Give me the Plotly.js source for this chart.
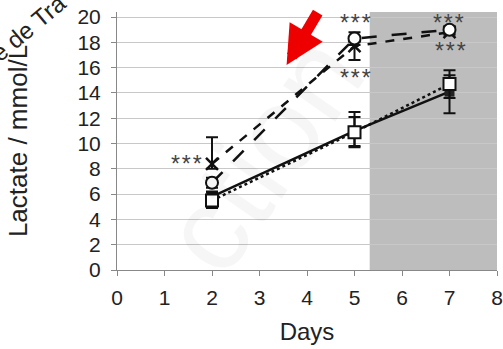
<!DOCTYPE html>
<html><head><meta charset="utf-8">
<script src="https://cdn.plot.ly/plotly-3.0.1.min.js"></script>
<style>html,body{margin:0;padding:0;background:#fff}#c{width:503px;height:349px}</style>
</head><body><div id="c"></div>
<script>
const days = [2, 5, 7];
const circleVals = [6.9, 18.3, 19.0];
const circleErr = [0.4, 0.5, 0.3];
const crossVals = [8.4, 17.7, 18.8];
const crossErrPlus = [2.1, 0.3, 0.2];
const crossErrMinus = [0.4, 1.1, 0.2];
const dotSqVals = [5.5, 10.9, 14.7];
const dotSqErr = [0.6, 1.2, 1.1];
const solidVals = [5.8, 11.0, 14.1];
const solidErrPlus = [0.4, 1.5, 1.3];
const solidErrMinus = [0.4, 1.2, 1.7];
const xTicks = [0,1,2,3,4,5,6,7,8];
const yTicks = [0,2,4,6,8,10,12,14,16,18,20];
const stars = [
  {x: 5.02, y: 19.9}, {x: 5.02, y: 15.6}, {x: 6.98, y: 19.9}, {x: 7.02, y: 17.7}, {x: 1.46, y: 8.8}
];
const shadedRange = [5.32, 8];

const eb = (plus, minus) => ({type:'data', symmetric:false, array:plus, arrayminus:minus, color:'#111', thickness:2, width:6});

const traces = [
  {x: days, y: solidVals, mode:'lines+markers', line:{color:'#111', width:2.5},
   marker:{symbol:'square', size:10, color:'#222'}, error_y: eb(solidErrPlus, solidErrMinus)},
  {x: days, y: dotSqVals, mode:'lines+markers', line:{color:'#111', width:2.5, dash:'dot'},
   marker:{symbol:'square', size:12, color:'#fff', line:{color:'#111', width:2}}, error_y: eb(dotSqErr, dotSqErr)},
  {x: days, y: crossVals, mode:'lines+markers', line:{color:'#111', width:2.5, dash:'dash'},
   marker:{symbol:'x-thin-open', size:12, color:'#111', line:{color:'#111', width:2.5}}, error_y: eb(crossErrPlus, crossErrMinus)},
  {x: days, y: circleVals, mode:'lines+markers', line:{color:'#111', width:2.5, dash:'longdash'},
   marker:{symbol:'circle', size:12, color:'#fff', line:{color:'#111', width:2}}, error_y: eb(circleErr, circleErr)}
];

const annotations = stars.map(s => ({x:s.x, y:s.y, xref:'x', yref:'y', text:'*\u200A*\u200A*', showarrow:false,
  yshift:-5, font:{family:'Liberation Sans, Arial', size:23, color:'#444'}}));
annotations.push({x:3.57, y:16.2, xref:'x', yref:'y', text:'', showarrow:true, ax:32, ay:-54,
  arrowcolor:'#ee0000', arrowwidth:11, arrowhead:2, arrowsize:0.7});
annotations.push({x:-0.232, y:0.94, xref:'paper', yref:'paper', xanchor:'center', yanchor:'middle', text:'e de Tra', showarrow:false, textangle:-40,
  font:{family:'Liberation Sans, Arial', size:24, color:'#222'}});
annotations.push({x:0.38, y:0.45, xref:'paper', yref:'paper', text:'ction', showarrow:false, textangle:-55,
  font:{family:'Liberation Sans, Arial', size:120, color:'rgba(0,0,0,0.035)'}});

const layout = {
  width:503, height:349,
  margin:{l:117, r:6, t:12, b:79},
  paper_bgcolor:'#fff', plot_bgcolor:'#fff',
  showlegend:false,
  font:{family:'Liberation Sans, Arial', color:'#222'},
  xaxis:{range:[0,8], tickvals:xTicks, ticktext:xTicks.map(String), showgrid:false, zeroline:false,
    showline:true, linecolor:'#888', linewidth:1, ticks:'outside', ticklen:5, tickcolor:'#888',
    ticklabeloverflow:'allow', ticklabelstandoff:4,
    tickfont:{size:21, color:'#222'}, title:{text:'Days', font:{size:24, color:'#222'}, standoff:14}},
  yaxis:{range:[0,20.4], tickvals:yTicks, ticktext:yTicks.map(String), showgrid:true, gridcolor:'#c8c8c8', gridwidth:1,
    zeroline:false, showline:true, linecolor:'#888', linewidth:1, ticks:'outside', ticklen:5, tickcolor:'#888',
    ticklabelstandoff:6, ticklabeloverflow:'allow',
    tickfont:{size:21, color:'#222'}, title:{text:'Lactate / mmol/L', font:{size:26, color:'#222'}, standoff:42}},
  shapes:[{type:'rect', xref:'x', yref:'y', x0:shadedRange[0], x1:shadedRange[1], y0:0, y1:20.4,
    fillcolor:'#bdbdbd', line:{width:0}, layer:'below'}],
  annotations: annotations
};
Plotly.newPlot('c', traces, layout, {staticPlot:true, displayModeBar:false});
</script></body></html>
